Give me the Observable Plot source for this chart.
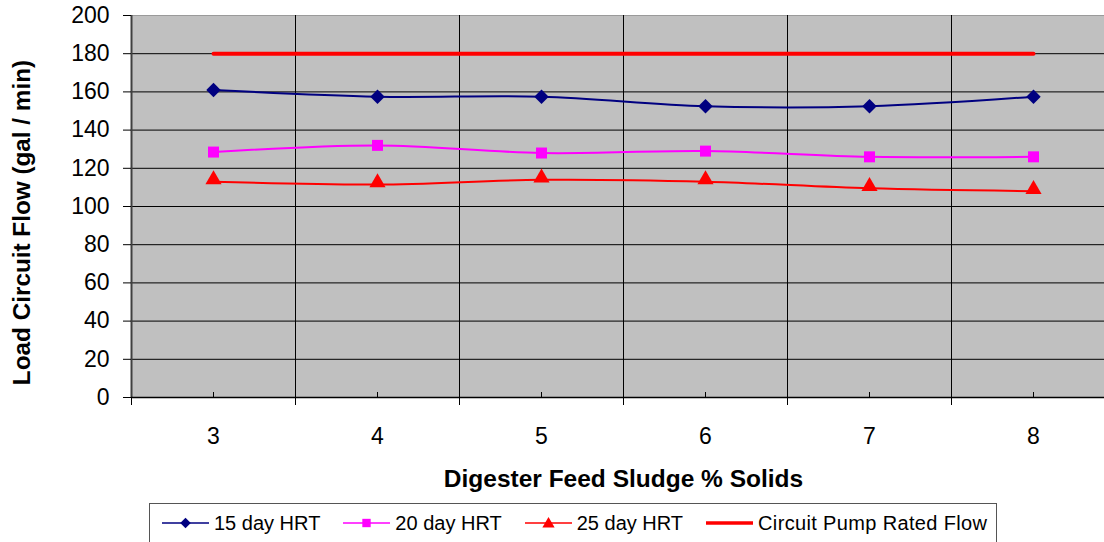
<!DOCTYPE html>
<html>
<head>
<meta charset="utf-8">
<script src="https://cdn.jsdelivr.net/npm/d3@7"></script>
<script src="https://cdn.jsdelivr.net/npm/@observablehq/plot@0.6"></script>
<style>
  html, body { margin: 0; padding: 0; background: #fff; }
  body { width: 1104px; height: 542px; overflow: hidden; font-family: "Liberation Sans", Arial, sans-serif; }
  #legend {
    position: absolute; left: 149px; top: 503px; width: 848px; height: 40px;
    border: 1px solid #555; box-sizing: border-box;
    display: flex; align-items: center; padding-left: 12px;
    font-size: 20px; color: #000; white-space: nowrap;
  }
  .item { display: flex; align-items: center; margin-right: 23px; flex-shrink: 0; }
  .item svg { margin-right: 5px; flex-shrink: 0; }
  .item span.wide { letter-spacing: 0.35px; }
</style>
</head>
<body>
<div id="chart"></div>
<div id="legend"></div>
<script>
// Digester feed sludge solids content (%), one category per column
const solids = [3, 4, 5, 6, 7, 8];

// Load circuit flow (gal/min) for each hydraulic retention time
const hrt15 = [161, 157.5, 157.5, 152.5, 152.5, 157.5];
const hrt20 = [128.5, 132, 128, 129, 126, 126];
const hrt25 = [113, 111.5, 114, 113, 109.5, 108];
const pumpRated = [180, 180, 180, 180, 180, 180];

const yTicks = [0, 20, 40, 60, 80, 100, 120, 140, 160, 180, 200];

const series = [
  {name: "15 day HRT", values: hrt15, color: "#000080", width: 2, symbol: "diamond2", r: 6.5},
  {name: "20 day HRT", values: hrt20, color: "#FF00FF", width: 2, symbol: "square", r: 6.2},
  {name: "25 day HRT", values: hrt25, color: "#FF0000", width: 2, symbol: "triangle", r: 6},
  {name: "Circuit Pump Rated Flow", values: pumpRated, color: "#FF0000", width: 4, symbol: null}
];

const rows = series.map(s => solids.map((x, i) => ({x, y: s.values[i], series: s.name})));

// category bands are one unit wide, centred on each solids value
const edges = d3.range(solids[0] - 0.5, solids[solids.length - 1] + 1, 1);
const innerEdges = edges.slice(1, -1);

const font = "'Liberation Sans', Arial, sans-serif";

const marks = [
  Plot.frame({fill: "#C0C0C0", stroke: null}),
  Plot.ruleY(yTicks.slice(1, -1), {stroke: "#000", strokeWidth: 1}),
  Plot.ruleY(yTicks.slice(-1), {stroke: "#9a9a9a", strokeWidth: 1}),
  Plot.ruleX(innerEdges, {stroke: "#000", strokeWidth: 1}),
  Plot.ruleX(edges.slice(0, 1), {stroke: "#404040", strokeWidth: 2}),
  Plot.ruleY([0], {stroke: "#000", strokeWidth: 1.5}),
  Plot.axisY(yTicks, {tickSize: 8, tickPadding: 14, fontSize: 23, label: null}),
  Plot.axisX(edges, {tickSize: 8, tickFormat: () => "", label: null}),
  Plot.axisX(solids, {tickSize: 5, dy: -5, tickFormat: () => "", label: null}),
  Plot.axisX(solids, {tickSize: 0, tickPadding: 30, fontSize: 23, tickFormat: d3.format("d"), label: null}),
  Plot.text(["Load Circuit Flow (gal / min)"], {
    text: d => d, frameAnchor: "left", textAnchor: "middle", rotate: -90, dx: -109, dy: 16,
    fontWeight: "bold", fontSize: 24.3
  }),
  Plot.text(["Digester Feed Sludge % Solids"], {
    text: d => d, frameAnchor: "bottom", dy: 89, fontWeight: "bold", fontSize: 24.5
  })
];

series.forEach((s, k) => {
  marks.push(Plot.line(rows[k], {
    x: "x", y: "y", stroke: s.color, strokeWidth: s.width,
    curve: s.symbol ? "catmull-rom" : "linear"
  }));
  if (s.symbol) {
    marks.push(Plot.dot(rows[k], {
      x: "x", y: "y", symbol: () => s.symbol, fill: s.color, stroke: "none", r: s.r,
      dy: s.symbol === "triangle" ? -2 : 0
    }));
  }
});

const chart = Plot.plot({
  width: 1104,
  height: 500,
  marginLeft: 131,
  marginRight: -11,
  marginTop: 15,
  marginBottom: 103,
  x: {domain: [edges[0], edges[edges.length - 1]], label: null},
  y: {domain: [0, 200], label: null},
  symbol: {type: "identity"},
  style: {fontFamily: font, color: "#000", background: "#fff", overflow: "hidden"},
  marks
});
document.getElementById("chart").appendChild(chart);

// legend: line swatch with marker, then series name
const legend = d3.select("#legend");
series.forEach(s => {
  const item = legend.append("div").attr("class", "item");
  const svg = item.append("svg").attr("width", 47).attr("height", 16);
  svg.append("line").attr("x1", 0).attr("x2", 47).attr("y1", 8).attr("y2", 8)
    .attr("stroke", s.color).attr("stroke-width", s.symbol ? 1.5 : 3.5);
  if (s.symbol) {
    const sym = {diamond2: d3.symbolDiamond2, square: d3.symbolSquare, triangle: d3.symbolTriangle}[s.symbol];
    const size = s.symbol === "triangle" ? 65 : 70;
    svg.append("path").attr("d", d3.symbol(sym, size)())
      .attr("transform", `translate(23.5,${s.symbol === "triangle" ? 9 : 8})`)
      .attr("fill", s.color);
  }
  item.append("span").attr("class", s.symbol ? null : "wide").text(s.name);
});
</script>
</body>
</html>
